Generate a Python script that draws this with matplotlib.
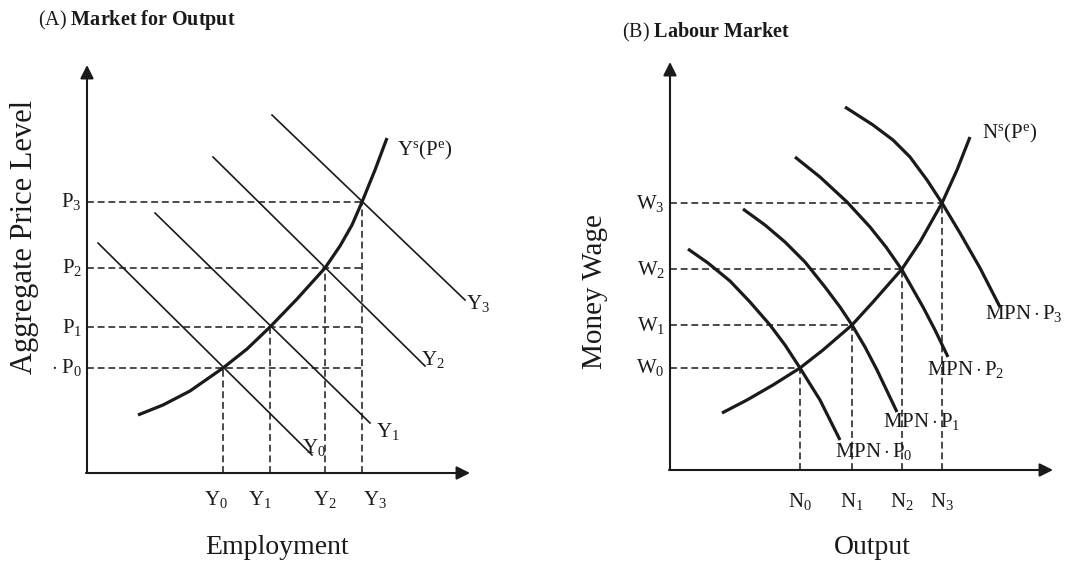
import matplotlib.pyplot as plt

plt.rcParams['font.family'] = 'Liberation Serif'
plt.rcParams['mathtext.fontset'] = 'custom'
plt.rcParams['mathtext.rm'] = 'Liberation Serif'
plt.rcParams['mathtext.it'] = 'Liberation Serif:italic'
plt.rcParams['mathtext.bf'] = 'Liberation Serif:bold'

INK = '#1a1a1a'

# ---- (A) market for output ----
y_eq = [1.36, 1.83, 2.38, 2.75]          # Y0..Y3
p_eq = [1.05, 1.46, 2.05, 2.71]          # P0..P3
y_names = [r'$\mathrm{Y_0}$', r'$\mathrm{Y_1}$', r'$\mathrm{Y_2}$', r'$\mathrm{Y_3}$']
p_names = [r'$\cdot\ \mathrm{P_0}$', r'$\mathrm{P_1}$', r'$\mathrm{P_2}$', r'$\mathrm{P_3}$']

# aggregate supply Ys(Pe)
ys_x = [0.51, 0.76, 1.03, 1.36, 1.60, 1.83, 2.10, 2.38, 2.53, 2.65, 2.75, 2.88, 3.00]
ys_y = [0.58, 0.68, 0.82, 1.05, 1.24, 1.46, 1.74, 2.05, 2.27, 2.48, 2.71, 3.03, 3.35]

# demand lines Y0..Y3 (start / end points)
yd_x0 = [0.11, 0.68, 1.26, 1.85]
yd_y0 = [2.30, 2.60, 3.16, 3.58]
yd_x1 = [2.25, 2.83, 3.38, 3.78]
yd_y1 = [0.18, 0.50, 1.07, 1.73]

# ---- (B) labour market ----
n_eq = [1.30, 1.82, 2.32, 2.72]          # N0..N3
w_eq = [1.02, 1.45, 2.01, 2.67]          # W0..W3
n_names = [r'$\mathrm{N_0}$', r'$\mathrm{N_1}$', r'$\mathrm{N_2}$', r'$\mathrm{N_3}$']
w_names = [r'$\mathrm{W_0}$', r'$\mathrm{W_1}$', r'$\mathrm{W_2}$', r'$\mathrm{W_3}$']

ns_x = [0.52, 0.77, 1.03, 1.30, 1.53, 1.82, 2.03, 2.32, 2.50, 2.72, 2.87, 3.00]
ns_y = [0.57, 0.70, 0.85, 1.02, 1.20, 1.45, 1.68, 2.01, 2.28, 2.67, 3.00, 3.33]

mpn_x = [
    [0.18, 0.38, 0.60, 0.80, 1.00, 1.15, 1.30, 1.50, 1.70],
    [0.73, 0.95, 1.15, 1.35, 1.55, 1.70, 1.82, 1.95, 2.07, 2.27],
    [1.25, 1.50, 1.77, 2.00, 2.16, 2.32, 2.53, 2.65, 2.78],
    [1.75, 2.03, 2.23, 2.40, 2.57, 2.72, 2.90, 3.10, 3.30],
]
mpn_y = [
    [2.21, 2.07, 1.89, 1.68, 1.45, 1.25, 1.02, 0.70, 0.30],
    [2.61, 2.45, 2.28, 2.08, 1.83, 1.63, 1.45, 1.23, 1.00, 0.58],
    [3.13, 2.93, 2.68, 2.43, 2.23, 2.00, 1.63, 1.40, 1.13],
    [3.63, 3.45, 3.30, 3.13, 2.90, 2.67, 2.37, 2.02, 1.63],
]
mpn_names = [r'$\mathrm{MPN\cdot P_%d}$' % i for i in range(4)]

fig = plt.figure(figsize=(10.69, 5.62), dpi=100)
axA = fig.add_axes([0, 0, 0.5, 1])
axB = fig.add_axes([0.5, 0, 0.5, 1])
axA.set_xlim(-0.87, 4.475)
axA.set_ylim(-0.89, 4.73)
axB.set_xlim(-1.355, 3.99)
axB.set_ylim(-0.92, 4.70)

dash_kw = dict(color=INK, lw=1.1, dashes=(4.5, 2.5))
curve_kw = dict(color=INK, lw=2.3, solid_joinstyle='round', solid_capstyle='butt')
arrow_kw = dict(arrowstyle='-|>', lw=1.5, color=INK, mutation_scale=20,
                shrinkA=0, shrinkB=0)


def draw_axes(ax, top, right):
    ax.annotate('', xy=(0, top), xytext=(0, 0), arrowprops=arrow_kw)
    ax.annotate('', xy=(right, 0), xytext=(-0.01, 0), arrowprops=arrow_kw)
    ax.axis('off')


# panel A
draw_axes(axA, 4.08, 3.83)
for x, p in zip(y_eq, p_eq):
    axA.plot([0, y_eq[-1]], [p, p], **dash_kw)
    axA.plot([x, x], [0, p], **dash_kw)
for i in range(4):
    axA.plot([yd_x0[i], yd_x1[i]], [yd_y0[i], yd_y1[i]], color=INK, lw=1.2)
axA.plot(ys_x, ys_y, **curve_kw)

ylab_dx = [-0.07, -0.10, 0.0, 0.13]
for x, dx, s in zip(y_eq, ylab_dx, y_names):
    axA.text(x + dx, -0.27, s, fontsize=15, ha='center', va='center', color=INK)
for p, s in zip(p_eq, p_names):
    axA.text(-0.05, p, s, fontsize=15, ha='right', va='center', color=INK)

yd_lab = [(2.27, 0.26), (3.01, 0.41), (3.46, 1.13), (3.91, 1.70)]
for (tx, ty), s in zip(yd_lab, y_names):
    axA.text(tx, ty, s, fontsize=15, ha='center', va='center', color=INK)
axA.text(3.10, 3.23, r'$\mathrm{Y^s(P^e)}$', fontsize=15, ha='left', va='center', color=INK)

axA.text(1.90, -0.74, 'Employment', fontsize=20, ha='center', va='center', color=INK)
axA.text(-0.62, 2.36, 'Aggregate Price Level', fontsize=22, rotation=90,
         ha='center', va='center', color=INK)
axA.text(-0.49, 4.53, r'(A) $\mathbf{Market\ for\ Output}$', fontsize=14.5,
         ha='left', va='center', color=INK)

# panel B
draw_axes(axB, 4.08, 3.83)
for x, w in zip(n_eq, w_eq):
    axB.plot([0, x], [w, w], **dash_kw)
    axB.plot([x, x], [0, w], **dash_kw)
for xs, ys in zip(mpn_x, mpn_y):
    axB.plot(xs, ys, **curve_kw)
axB.plot(ns_x, ns_y, **curve_kw)

for x, s in zip(n_eq, n_names):
    axB.text(x, -0.31, s, fontsize=15, ha='center', va='center', color=INK)
for w, s in zip(w_eq, w_names):
    axB.text(-0.05, w, s, fontsize=15, ha='right', va='center', color=INK)

mpn_lab = [(1.65, 0.18), (2.13, 0.48), (2.57, 1.00), (3.15, 1.57)]
for (tx, ty), s in zip(mpn_lab, mpn_names):
    axB.text(tx, ty, s, fontsize=15, ha='left', va='center', color=INK)
axB.text(3.12, 3.37, r'$\mathrm{N^s(P^e)}$', fontsize=15, ha='left', va='center', color=INK)

axB.text(2.02, -0.77, 'Output', fontsize=20, ha='center', va='center', color=INK)
axB.text(-0.75, 1.78, 'Money Wage', fontsize=21, rotation=90,
         ha='center', va='center', color=INK)
axB.text(-0.48, 4.38, r'(B) $\mathbf{Labour\ Market}$', fontsize=14.5,
         ha='left', va='center', color=INK)

fig.savefig('out.png', dpi=100, facecolor='white')
